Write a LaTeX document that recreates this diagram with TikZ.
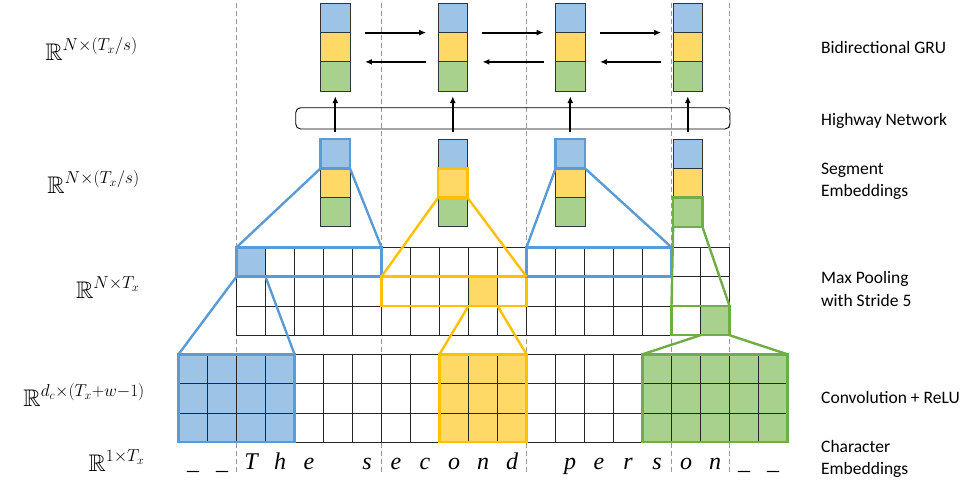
\documentclass[tikz,border=0pt]{standalone}
\usepackage{amsmath}
\usepackage{amssymb}
\usepackage[no-math]{fontspec}
\setmainfont{Carlito}
\newfontfamily\charfont{Liberation Serif}
\usetikzlibrary{arrows.meta,positioning}
\definecolor{bluefill}{HTML}{9DC3E6}
\definecolor{blueline}{HTML}{5B9BD5}
\definecolor{yellowfill}{HTML}{FFD966}
\definecolor{yellowline}{HTML}{FFC000}
\definecolor{greenfill}{HTML}{A9D18E}
\definecolor{greenline}{HTML}{70AD47}
\pgfdeclarelayer{background}
\pgfsetlayers{background,main}
\tikzset{
  gridcell/.style={rectangle, draw=black!85, line width=0.7pt, minimum width=29pt, minimum height=29.3pt, inner sep=0pt, outer sep=0pt},
  veccell/.style={rectangle, draw=black!80, line width=0.9pt, minimum width=29.3pt, minimum height=29.3pt, inner sep=0pt, outer sep=0pt},
  blueedge/.style={draw=blueline, line width=2.4pt},
  yellowedge/.style={draw=yellowline, line width=2.4pt},
  greenedge/.style={draw=greenline, line width=2.4pt},
  flowarrow/.style={-{Latex[length=7pt,width=6pt]}, line width=1.8pt},
  sepline/.style={draw=black!40, line width=0.9pt, dash pattern=on 5pt off 3pt},
  dimlabel/.style={anchor=base east, inner sep=0pt, font=\fontsize{24}{24}\selectfont},
  layerlabel/.style={anchor=west, align=left, inner sep=0pt, font=\fontsize{17.5}{22.5}\selectfont},
  charnode/.style={anchor=base, inner sep=0pt, font=\charfont\itshape\fontsize{24}{24}\selectfont}
}
\newcommand{\featurevector}[2] {
  \node at (#1) (#2b) [veccell, fill=bluefill] {};
  \node (#2y) [veccell, fill=yellowfill, below=0pt of #2b] {};
  \node (#2g) [veccell, fill=greenfill, below=0pt of #2y] {};
}
\newcommand{\zoomlines}[5] {\draw [#1] (#2) -- (#4); \draw [#1] (#3) -- (#5);}

\begin{document}
\begin{tikzpicture}[x=1pt, y=-1pt]
\useasboundingbox (0,0) rectangle (972,482);

% convolution output and max pooling grids
\foreach \c in {0,...,20}
  \foreach \r in {0,1,2}
    \node (conv-\c-\r) at ({193+29*\c},{368.95+29.3*\r}) [gridcell] {};
\foreach \c in {0,...,16}
  \foreach \r in {0,1,2}
    \node (pool-\c-\r) at ({251+29*\c},{261.95+29.3*\r}) [gridcell] {};

\begin{pgfonlayer}{background}
\foreach \c in {2,7,12,17,19}
  \draw [sepline] ({178.5+29*\c},3) -- ({178.5+29*\c},473);
\fill [bluefill] (conv-0-0.north west) rectangle (conv-3-2.south east);
\fill [yellowfill] (conv-9-0.north west) rectangle (conv-11-2.south east);
\fill [greenfill] (conv-16-0.north west) rectangle (conv-20-2.south east);
\fill [bluefill] (pool-0-0.north west) rectangle (pool-0-0.south east);
\fill [yellowfill] (pool-8-1.north west) rectangle (pool-8-1.south east);
\fill [greenfill] (pool-16-2.north west) rectangle (pool-16-2.south east);
\end{pgfonlayer}

% highway network
\node (highway) at (512.85,118.35) [draw, line width=0.9pt, rounded corners=5pt, minimum width=434.3pt, minimum height=21.3pt] {};

% segment embeddings and GRU states
\featurevector{335.3,153.65}{seg1}
\featurevector{452.8,153.65}{seg2}
\featurevector{570.3,153.65}{seg3}
\featurevector{687.8,153.65}{seg4}
\featurevector{335.3,17.95}{gru1}
\featurevector{452.8,17.95}{gru2}
\featurevector{570.3,17.95}{gru3}
\featurevector{687.8,17.95}{gru4}

% highlighted cells
\draw [blueedge] (conv-0-0.north west) rectangle (conv-3-2.south east);
\draw [yellowedge] (conv-9-0.north west) rectangle (conv-11-2.south east);
\draw [greenedge] (conv-16-0.north west) rectangle (conv-20-2.south east);
\draw [blueedge] (pool-0-0.north west) rectangle (pool-4-0.south east);
\draw [yellowedge] (pool-5-1.north west) rectangle (pool-9-1.south east);
\draw [blueedge] (pool-10-0.north west) rectangle (pool-14-0.south east);
\draw [greenedge] (pool-15-2.north west) rectangle (pool-16-2.south east);
\draw [blueedge] (seg1b.north west) rectangle (seg1b.south east);
\draw [yellowedge] (seg2y.north west) rectangle (seg2y.south east);
\draw [blueedge] (seg3b.north west) rectangle (seg3b.south east);
\draw [greenedge] (seg4g.north west) rectangle (seg4g.south east);

\zoomlines{blueedge}{pool-0-0.south west}{pool-0-0.south east}{conv-0-0.north west}{conv-3-0.north east}
\zoomlines{yellowedge}{pool-8-1.south west}{pool-8-1.south east}{conv-9-0.north west}{conv-11-0.north east}
\zoomlines{greenedge}{pool-16-2.south west}{pool-16-2.south east}{conv-16-0.north west}{conv-20-0.north east}
\zoomlines{blueedge}{pool-0-0.north west}{pool-4-0.north east}{seg1b.south west}{seg1b.south east}
\zoomlines{yellowedge}{pool-5-1.north west}{pool-9-1.north east}{seg2y.south west}{seg2y.south east}
\zoomlines{blueedge}{pool-10-0.north west}{pool-14-0.north east}{seg3b.south west}{seg3b.south east}
\zoomlines{greenedge}{pool-15-2.north west}{pool-16-2.north east}{seg4g.south west}{seg4g.south east}

% arrows
\draw [flowarrow] ([yshift=7pt]seg1b.north) -- ([yshift=-5pt]gru1g.south);
\draw [flowarrow] ([yshift=7pt]seg2b.north) -- ([yshift=-5pt]gru2g.south);
\draw [flowarrow] ([yshift=7pt]seg3b.north) -- ([yshift=-5pt]gru3g.south);
\draw [flowarrow] ([yshift=7pt]seg4b.north) -- ([yshift=-5pt]gru4g.south);
\draw [flowarrow] ([xshift=15pt]gru1b.south east) -- ([xshift=-12pt]gru2b.south west);
\draw [flowarrow] ([xshift=15pt]gru2b.south east) -- ([xshift=-12pt]gru3b.south west);
\draw [flowarrow] ([xshift=15pt]gru3b.south east) -- ([xshift=-12pt]gru4b.south west);
\draw [flowarrow] ([xshift=-12pt]gru2y.south west) -- ([xshift=15pt]gru1y.south east);
\draw [flowarrow] ([xshift=-12pt]gru3y.south west) -- ([xshift=15pt]gru2y.south east);
\draw [flowarrow] ([xshift=-12pt]gru4y.south west) -- ([xshift=15pt]gru3y.south east);

% characters
\foreach \c/\ch in {0/\_,1/\_,2/T,3/h,4/e,6/s,7/e,8/c,9/o,10/n,11/d,13/p,14/e,15/r,16/s,17/o,18/n,19/\_,20/\_}
  \node (char-\c) at ({193+29*\c},469) [charnode] {\ch};

% dimensions
\node (dimgru) at (138,60) [dimlabel] {$\mathbb{R}^{N\times(T_x/s)}$};
\node (dimseg) at (140,193) [dimlabel] {$\mathbb{R}^{N\times(T_x/s)}$};
\node (dimpool) at (140,298) [dimlabel] {$\mathbb{R}^{N\times T_x}$};
\node (dimconv) at (145,406) [dimlabel] {$\mathbb{R}^{d_c\times(T_x+w-1)}$};
\node (dimchar) at (145,471) [dimlabel] {$\mathbb{R}^{1\times T_x}$};

% layer names
\node (lblgru) at (821,47.5) [layerlabel] {Bidirectional GRU};
\node (lblhighway) at (821,120.7) [layerlabel] {Highway Network};
\node (lblseg) at (821,181.5) [layerlabel] {Segment\\Embeddings};
\node (lblpool) at (821,289) [layerlabel] {Max Pooling\\with Stride 5};
\node (lblconv) at (821,397) [layerlabel] {Convolution + ReLU};
\node (lblchar) at (821,459) [layerlabel] {Character\\Embeddings};

\end{tikzpicture}
\end{document}
